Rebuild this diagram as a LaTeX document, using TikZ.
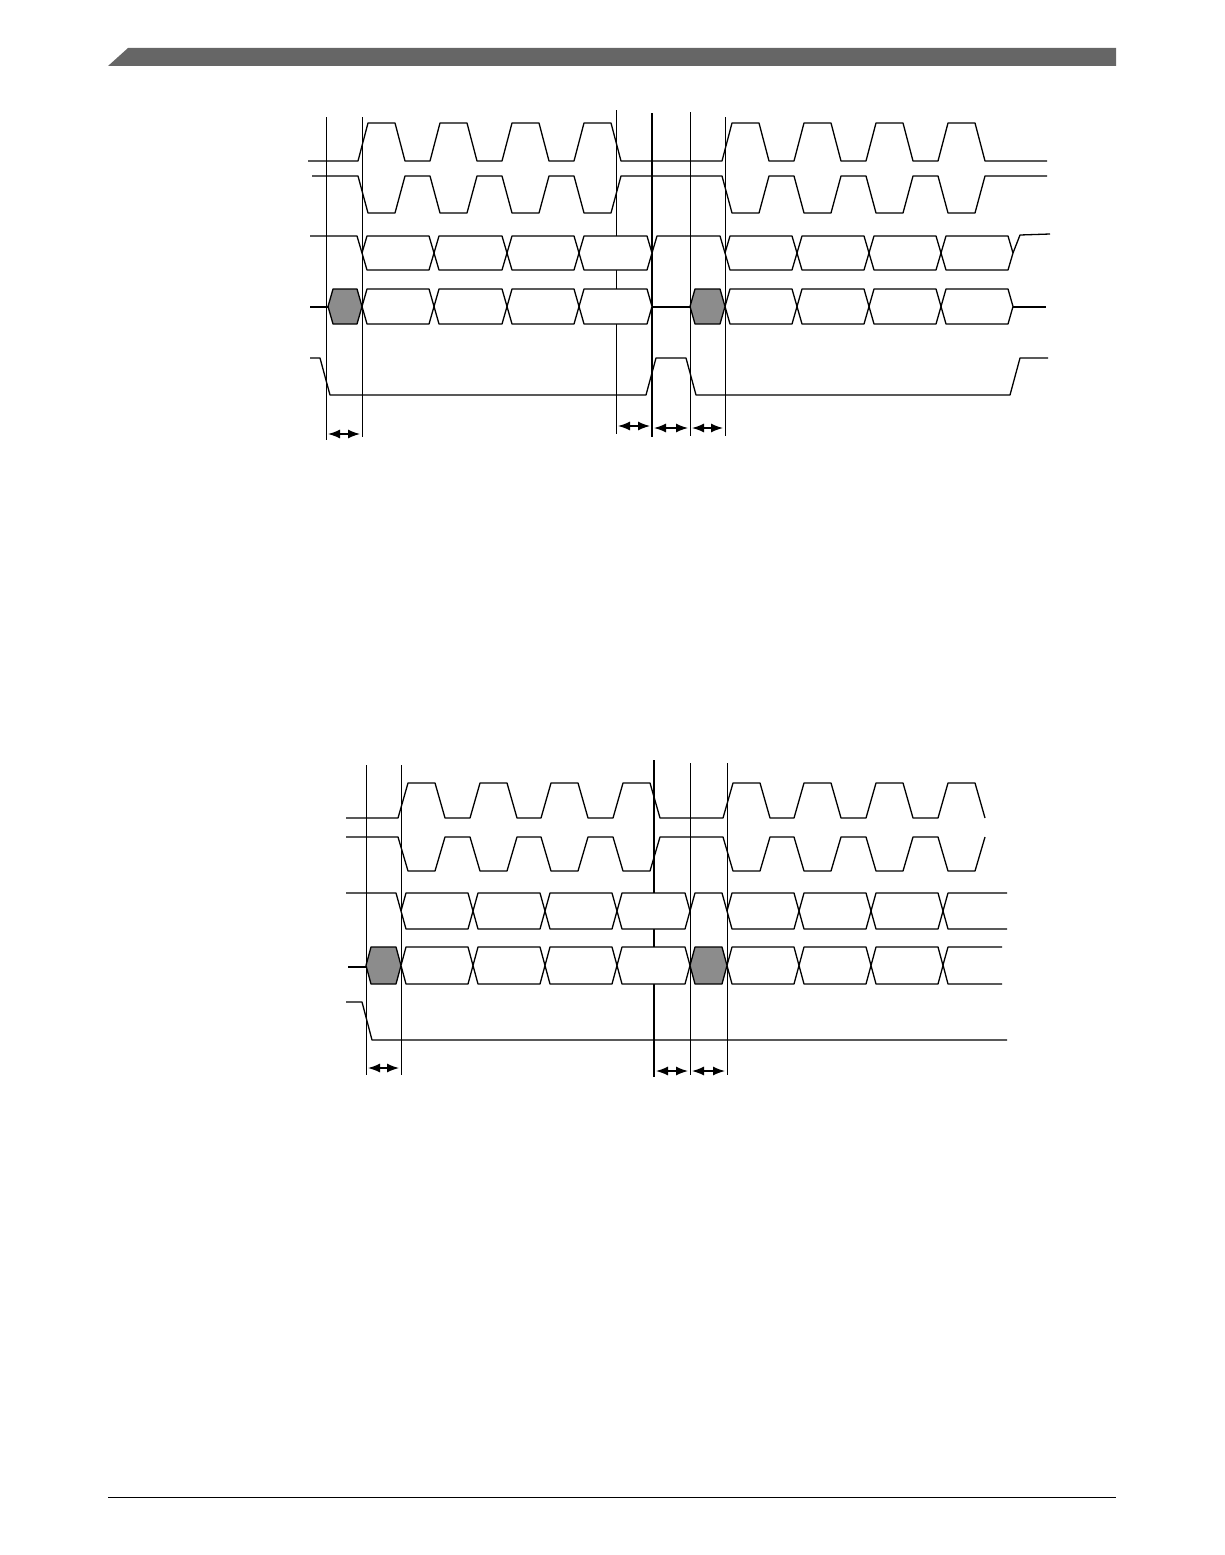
\documentclass[tikz,border=0pt]{standalone}
\usetikzlibrary{arrows.meta}
\tikzset{
  sig/.style={line width=1.3pt, line join=round},
  mark line/.style={line width=0.8pt},
  bus line/.style={line width=2pt},
  span/.style={line width=1.3pt, {Latex[length=12pt,width=9pt]}-{Latex[length=12pt,width=9pt]}}
}
% one data window: start x, end x, top y, bottom y, fill
\newcommand\window[5]{\draw[sig,fill=#5] (#1,{(#3+#4)/2}) -- (#1+5,#3) -- (#2-5,#3) -- (#2,{(#3+#4)/2}) -- (#2-5,#4) -- (#1+5,#4) -- cycle;}
\begin{document}
\begin{tikzpicture}[x=1pt,y=-1pt]
\useasboundingbox (0,0) rectangle (1224,1555);
% page header and footer
\fill[black!60] (108,66) -- (128,48) -- (1116,48) -- (1116,66) -- cycle;
\draw[line width=0.8pt] (108,1497) -- (1116,1497);

%%% upper transfer
\draw[mark line] (326,117) -- (326,440);
\draw[mark line] (362,117) -- (362,437);
\draw[mark line] (616,110) -- (616,434);
\draw[bus line] (652,113) -- (652,437);
\draw[mark line] (690,112) -- (690,436);
\draw[mark line] (725,117) -- (725,436);
% clock
\draw[sig] (308,161) foreach \t in {368,440,512,584} {-- (\t-10,161) -- (\t,123) -- (\t+27,123) -- (\t+37,161)}
    foreach \t in {732,804,876,948} {-- (\t-10,161) -- (\t,123) -- (\t+27,123) -- (\t+37,161)} -- (1047,161);
\draw[sig] (312,176) foreach \t in {368,440,512,584} {-- (\t-10,176) -- (\t,213) -- (\t+27,213) -- (\t+37,176)}
    foreach \t in {732,804,876,948} {-- (\t-10,176) -- (\t,213) -- (\t+27,213) -- (\t+37,176)} -- (1047,176);
% data out
\draw[sig] (310,236) -- (357,236) -- (362,253);
\foreach \a/\b in {362/434,434/507,507/579,579/652,725/797,797/869,869/941,941/1013}
  \window{\a}{\b}{236}{270}{white};
\draw[sig] (652,253) -- (657,236) -- (720,236) -- (725,253);
\draw[sig] (1013,253) -- (1020,235) -- (1050,234);
% data in
\draw[sig] (310,307) -- (328,307);
\window{328}{362}{289}{324}{black!45}
\foreach \a/\b in {362/434,434/507,507/579,579/652,725/797,797/869,869/941,941/1013}
  \window{\a}{\b}{289}{324}{white};
\draw[sig] (652,307) -- (690,307);
\window{690}{725}{289}{324}{black!45}
\draw[sig] (1013,307) -- (1046,307);
% select
\draw[sig] (310,358) -- (320,358) -- (330,395) -- (646,395) -- (656,358) -- (686,358) -- (696,395) -- (1010,395) -- (1020,358) -- (1048,358);
% spans
\coordinate (u1a) at (328,434); \coordinate (u1b) at (360,434);
\coordinate (u2a) at (618,426); \coordinate (u2b) at (650,426);
\coordinate (u3a) at (654,428); \coordinate (u3b) at (688,428);
\coordinate (u4a) at (692,428); \coordinate (u4b) at (723,428);
\foreach \s in {1,...,4} \draw[span] (u\s a) -- (u\s b);

%%% lower transfer
\draw[mark line] (366,765) -- (366,1075);
\draw[mark line] (401,765) -- (401,1075);
\draw[bus line] (654,760) -- (654,1077);
\draw[mark line] (690,763) -- (690,1075);
\draw[mark line] (727,763) -- (727,1075);
% clock
\draw[sig] (346,818) foreach \t in {408,480,551,623} {-- (\t-10,818) -- (\t,783) -- (\t+27,783) -- (\t+37,818)}
    foreach \t in {733,804,876} {-- (\t-10,818) -- (\t,783) -- (\t+27,783) -- (\t+37,818)}
    -- (938,818) -- (948,783) -- (975,783) -- (985,818);
\draw[sig] (346,837) foreach \t in {408,480,551,623} {-- (\t-10,837) -- (\t,871) -- (\t+27,871) -- (\t+37,837)}
    foreach \t in {733,804,876} {-- (\t-10,837) -- (\t,871) -- (\t+27,871) -- (\t+37,837)}
    -- (938,837) -- (948,871) -- (975,871) -- (985,837);
% data out
\draw[sig] (346,893) -- (396,893) -- (401,911);
\foreach \a/\b in {401/473,473/545,545/617,617/690,727/799,799/871,871/943}
  \window{\a}{\b}{893}{929}{white};
\draw[sig] (690,911) -- (695,893) -- (722,893) -- (727,911);
\draw[sig] (1007,893) -- (948,893) -- (943,911) -- (948,929) -- (1007,929);
% data in
\draw[sig] (348,967) -- (366,967);
\window{366}{401}{947}{984}{black!45}
\foreach \a/\b in {401/473,473/545,545/617,617/690,727/799,799/871,871/943}
  \window{\a}{\b}{947}{984}{white};
\window{690}{727}{947}{984}{black!45}
\draw[sig] (1002,947) -- (948,947) -- (943,965) -- (948,984) -- (1002,984);
% select
\draw[sig] (346,1002) -- (362,1002) -- (372,1040) -- (1007,1040);
% spans
\coordinate (l1a) at (368,1068); \coordinate (l1b) at (399,1068);
\coordinate (l2a) at (656,1071); \coordinate (l2b) at (688,1071);
\coordinate (l3a) at (692,1071); \coordinate (l3b) at (725,1071);
\foreach \s in {1,...,3} \draw[span] (l\s a) -- (l\s b);
\end{tikzpicture}
\end{document}
